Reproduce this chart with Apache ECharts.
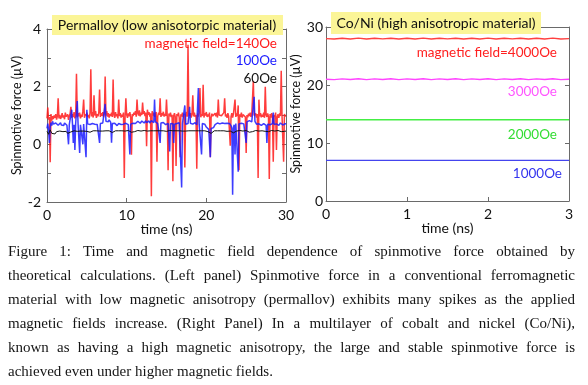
<!DOCTYPE html>
<html>
<head>
<meta charset="utf-8">
<script src="https://cdn.jsdelivr.net/npm/echarts@6/dist/echarts.min.js"></script>
<style>
  html, body { margin: 0; padding: 0; background: #fff; }
  #chart { position: absolute; left: 0; top: 0; width: 588px; height: 385px; }
  #caption { position: absolute; left: 8px; top: 239px; width: 567px;
    font-family: "Liberation Serif", "DejaVu Serif", serif; font-size: 15px; color: #151515; }
  #caption div { height: 24px; line-height: 24px; white-space: nowrap; text-align: justify; text-align-last: justify; }
  #caption div.last { text-align-last: left; }
</style>
</head>
<body>
<div id="chart"></div>
<div id="caption">
  <div>Figure 1: Time and magnetic field dependence of spinmotive force obtained by</div>
  <div>theoretical calculations. (Left panel) Spinmotive force in a conventional ferromagnetic</div>
  <div>material with low magnetic anisotropy (permallov) exhibits many spikes as the applied</div>
  <div>magnetic fields increase. (Right Panel) In a multilayer of cobalt and nickel (Co/Ni),</div>
  <div>known as having a high magnetic anisotropy, the large and stable spinmotive force is</div>
  <div class="last">achieved even under higher magnetic fields.</div>
</div>
<script>
// ---- Left panel: Permalloy, time 0..30 ns ----
const leftTimeStep = 0.1;   // ns between samples (red, blue)
const blackTimeStep = 0.2;  // ns between samples (black)
const red140 = [
  0.9, 1.28, 0.85, 0.95, -0.62, 1.05, 0.82, 0.98, 0.88, 1.0,
  0.92, 1.05, 0.86, 0.97, 1.6, 0.9, 1.02, 0.88, 0.95, 1.08,
  0.93, 1.0, 0.87, 1.1, 0.96, 0.9, 1.04, 0.85, 0.98, 1.06,
  1.3, 0.92, 1.05, 0.95, 1.12, 0.9, 1.0, 2.45, 0.94, 1.08,
  0.97, 1.1, 0.9, 1.03, 0.95, 1.15, 1.55, 0.92, 1.05, 0.98,
  1.1, 0.95, 1.02, 0.9, 1.08, 2.6, 0.97, 1.12, 0.93, 1.7,
  1.0, 1.15, 0.92, 1.05, 0.97, 1.1, 1.9, 0.95, 1.08, 0.99,
  1.12, 0.94, 1.06, 2.35, 1.0, 1.15, 0.96, 1.08, 0.93, 1.05,
  0.98, 1.1, 0.95, 2.25, 1.02, 0.92, 1.12, 0.97, 1.05, 0.9,
  1.55, 0.98, 1.08, 0.93, 1.03, 0.96, 1.1, -1.17, 0.95, 1.6,
  1.02, 0.92, 1.07, 0.97, 1.12, 0.94, -0.36, 1.05, 0.98, 1.1,
  1.03, 1.15, 0.96, 1.55, 1.08, 1.0, 1.18, 0.97, 1.1, 1.02,
  1.45, 1.05, 1.15, 0.98, 1.1, -0.07, 1.2, 1.02, 1.12, 0.96,
  1.08, -1.8, 1.15, 1.0, 1.1, 0.95, 1.05, 1.12, -0.6, 0.98,
  1.1, 1.02, 1.6, 0.95, 1.08, 1.0, 1.13, 0.96, 1.05, 0.98,
  1.55, 0.93, -0.9, 1.07, 0.97, 1.1, 0.94, 1.03, -1.28, 0.99,
  1.08, 0.95, -0.75, 1.05, 0.98, 1.1, 0.92, -0.45, 1.04, 0.97,
  1.1, 0.94, 1.06, -0.8, 1.0, 1.12, 0.96, 3.45, 1.05, 0.98,
  1.08, 0.93, 1.05, 1.7, 0.97, 1.1, 0.95, 1.02, -0.85, 1.07,
  0.96, 1.1, 1.95, 0.94, 1.05, 0.98, 2.07, 0.93, 1.08, 1.0,
  1.12, 0.95, 1.04, 0.97, 1.1, -0.45, 0.93, 1.06, 0.98, 1.03,
  0.95, 1.08, 0.97, 1.1, 0.93, 1.55, 1.02, 0.96, 1.07, 0.99,
  1.05, 0.94, 1.1, 1.6, 0.97, 1.04, 0.92, 1.08, 0.98, 1.03,
  -0.05, 0.96, 1.08, 0.93, 1.05, 0.99, 1.55, 0.95, 1.07, 0.98,
  1.35, -0.9, 1.04, 0.96, 1.1, 0.93, 1.03, 0.97, 1.08, 0.95,
  -0.3, 1.02, 0.94, 1.06, 0.98, 1.1, 0.95, 1.03, 0.97, 2.2,
  1.0, 0.95, 1.07, 0.93, 1.05, -1.17, 1.55, 0.97, 1.08, 0.94,
  1.03, 0.96, 1.1, 0.92, 2.0, 1.02, 0.95, 1.07, 0.97, -1.2,
  1.05, 0.93, 1.08, 0.97, -0.6, 1.02, 0.95, 1.1, -0.2, 0.96,
  1.04, 0.92, 1.07, 0.98, 2.55, 1.0, 0.94, -0.6, 1.05, 0.97, 1.0
];
const blue100 = [
  0.55, 0.72, 0.48, 0.05, 0.6, 0.75, 0.65, 0.8, 0.7, 0.76,
  0.68, 0.74, 0.7, 0.77, 0.66, 0.72, 0.69, 0.75, 0.67, 0.73,
  0.7, 0.65, 0.74, 0.68, 0.72, 0.66, 0.71, 0.0, 0.69, 0.74,
  0.66, 1.2, 0.7, 0.05, 0.68, -0.2, 0.73, 0.67, 1.5, 0.7,
  0.74, -0.3, 0.68, 0.72, 0.66, 0.0, 0.7, 0.74, 0.67, -0.45,
  1.2, 0.71, 0.66, 0.73, 0.69, 0.75, 0.68, 0.72, 0.66, 0.74,
  0.7, 0.67, 0.75, 0.69, 0.73, 0.68, 0.05, 0.72, 0.76, 0.7,
  0.74, 0.78, 0.72, 1.4, 0.8, 0.76, 0.82, 0.78, 0.85, 0.8,
  0.76, 0.06, 0.72, 0.7, 0.66, 0.73, 0.69, 0.71, 0.65, 0.7,
  0.72, 0.67, 0.74, 0.69, 0.66, 0.72, 0.7, 0.75, 0.68, 0.73,
  0.7, 0.74, 0.68, 0.72, -0.35, 0.7, 0.75, 0.69, 0.73, 0.71,
  0.76, 0.72, 0.78, 0.74, 0.8, 0.75, 0.79, 0.73, 0.77, 0.81,
  0.76, 0.8, 0.74, 0.78, 0.82, 0.75, 0.79, 0.77, 0.81, 0.74,
  0.78, 0.82, 0.76, 0.8, 0.75, 1.55, 0.79, 0.74, 0.78, 0.72,
  0.76, 0.7, 0.05, 0.74, 0.69, 0.73, 0.76, 0.7, 0.72, 0.68,
  0.74, 0.7, 0.73, 0.67, -0.25, 0.71, 0.75, 0.69, 0.72, 0.05,
  0.7, 0.74, 0.68, 0.72, 0.66, 0.71, 0.75, 0.69, 0.73, -1.5,
  0.72, 0.68, 0.74, 1.35, 0.7, 0.73, 0.67, 0.72, 0.69, 1.3,
  0.73, 0.68, 0.74, 0.7, 0.72, 0.67, 0.75, 0.71, 0.68, 0.73,
  1.95, 0.7, 0.74, 0.68, -0.35, 0.72, 0.69, 0.74, 0.7, 0.66,
  0.6, 0.55, 0.58, 0.52, 0.57, -0.45, 0.55, 0.6, 0.54, 0.58,
  0.62, 0.68, 0.72, 0.7, 0.74, 0.69, 0.73, 0.71, 0.75, 0.7,
  0.74, 0.71, 0.76, 0.72, 0.7, 0.75, 0.73, 0.69, 0.74, 0.72,
  0.7, 0.65, 0.55, -1.75, 0.6, 0.68, -0.35, 0.72, 0.7, 0.74,
  -0.95, 0.71, 0.75, 0.7, 0.73, 0.68, 0.74, 0.71, 0.76, 0.72,
  0.05, 0.78, 0.8, 0.76, 0.82, 0.79, 0.83, 0.78, 0.81, 0.77,
  1.65, 0.8, 0.74, 0.7, 0.72, 0.67, 0.71, 0.68, 0.72, 0.66,
  0.7, 0.67, 0.72, 0.68, 0.71, 0.66, 0.05, 0.7, 0.67, 0.72,
  0.68, 0.71, 0.66, 0.72, 1.1, 0.69, 0.73, 0.67, 0.71, 0.68,
  0.72, 0.66, 0.7, 0.74, 0.68, 0.71, 0.67, 0.73, 0.69, 0.72, 0.7
];
const black60 = [
  0.45, 0.35, 0.5, 0.38, 0.42, 0.36, 0.44, 0.4, 0.46, 0.42,
  0.44, 0.46, 0.45, 0.38, 0.36, 0.43, 0.46, 0.47, 0.46, 0.45,
  0.47, 0.46, 0.44, 0.46, 0.47, 0.45, 0.39, 0.42, 0.46, 0.47,
  0.46, 0.47, 0.45, 0.46, 0.47, 0.46, 0.45, 0.47, 0.48, 0.47,
  0.46, 0.41, 0.43, 0.47, 0.48, 0.47, 0.46, 0.47, 0.48, 0.46,
  0.47, 0.48, 0.47, 0.42, 0.39, 0.44, 0.47, 0.48, 0.47, 0.46,
  0.47, 0.48, 0.47, 0.46, 0.45, 0.47, 0.48, 0.47, 0.46, 0.47,
  0.46, 0.47, 0.48, 0.47, 0.46, 0.45, 0.47, 0.48, 0.46, 0.47,
  0.48, 0.47, 0.46, 0.47, 0.48, 0.46, 0.47, 0.46, 0.45, 0.47,
  0.48, 0.47, 0.46, 0.47, 0.48, 0.47, 0.46, 0.47, 0.46, 0.47,
  0.48, 0.44, 0.39, 0.38, 0.43, 0.47, 0.48, 0.47, 0.46, 0.47,
  0.48, 0.47, 0.46, 0.45, 0.47, 0.46, 0.44, 0.4, 0.42, 0.46,
  0.47, 0.48, 0.47, 0.46, 0.47, 0.48, 0.47, 0.42, 0.38, 0.44,
  0.47, 0.48, 0.47, 0.46, 0.45, 0.47, 0.46, 0.45, 0.41, 0.44,
  0.47, 0.48, 0.47, 0.46, 0.47, 0.48, 0.46, 0.44, 0.42, 0.45, 0.46
];
const leftXTicks = [0, 10, 20, 30];
const leftYTickLabels = [-2, 0, 2, 4];
const leftLabels = ['magnetic field=140Oe', '100Oe', '60Oe'];
const leftTitle = 'Permalloy (low anisotorpic material)';

// ---- Right panel: Co/Ni, time 0..3 ns ----
const rightTimeStep = 0.1;
const red4000 = [28.0, 27.92, 28.06, 27.94, 28.08, 27.93, 28.05, 27.95, 28.07, 27.92, 28.06,
  27.94, 28.08, 27.93, 28.05, 27.95, 28.07, 27.92, 28.06, 27.94, 28.08,
  27.93, 28.05, 27.95, 28.07, 27.92, 28.06, 27.94, 28.08, 27.93, 28.0];
const magenta3000 = [21.0, 20.93, 21.06, 20.94, 21.07, 20.93, 21.05, 20.95, 21.07, 20.92, 21.06,
  20.94, 21.07, 20.93, 21.05, 20.95, 21.07, 20.92, 21.06, 20.94, 21.07,
  20.93, 21.05, 20.95, 21.07, 20.92, 21.06, 20.94, 21.07, 20.93, 21.0];
const green2000 = [14.0, 14.0, 14.0, 14.0, 14.0, 14.0, 14.0, 14.0, 14.0, 14.0, 14.0,
  14.0, 14.0, 14.0, 14.0, 14.0, 14.0, 14.0, 14.0, 14.0, 14.0,
  14.0, 14.0, 14.0, 14.0, 14.0, 14.0, 14.0, 14.0, 14.0, 14.0];
const blue1000 = [7.0, 7.0, 7.0, 7.0, 7.0, 7.0, 7.0, 7.0, 7.0, 7.0, 7.0,
  7.0, 7.0, 7.0, 7.0, 7.0, 7.0, 7.0, 7.0, 7.0, 7.0,
  7.0, 7.0, 7.0, 7.0, 7.0, 7.0, 7.0, 7.0, 7.0, 7.0];
const rightXTicks = [0, 1, 2, 3];
const rightYTicks = [0, 10, 20, 30];
const rightLabels = ['magnetic field=4000Oe', '3000Oe', '2000Oe', '1000Oe'];
const rightTitle = 'Co/Ni (high anisotropic material)';

const yName = 'Spinmotive force (\u00b5V)';
const xName = 'time (ns)';

function pairs(vals, step) {
  return vals.map(function (v, i) { return [Math.round(i * step * 100) / 100, v]; });
}

const SANS = 'Lato, "Open Sans", sans-serif';
const AXIS_COLOR = '#6a6a6a';

function axisBase(extra) {
  return Object.assign({
    type: 'value',
    axisLine: { show: true, onZero: false, lineStyle: { color: AXIS_COLOR, width: 1 } },
    axisTick: { show: true, inside: true, length: 4, lineStyle: { color: AXIS_COLOR } },
    splitLine: { show: false },
    axisLabel: { color: '#111', fontFamily: SANS, fontSize: 14 }
  }, extra);
}

const chart = echarts.init(document.getElementById('chart'), null, { renderer: 'canvas' });

const option = {
  animation: false,
  backgroundColor: '#fff',
  grid: [
    { left: 47, top: 29, width: 239, height: 173 },
    { left: 326, top: 27, width: 243, height: 174 }
  ],
  xAxis: [
    axisBase({ gridIndex: 0, position: 'bottom', min: leftXTicks[0], max: leftXTicks[leftXTicks.length - 1], interval: 10,
      axisLabel: { color: '#111', fontFamily: SANS, fontSize: 14, margin: 6 },
      name: xName, nameLocation: 'middle', nameGap: 20, nameTextStyle: { color: '#111', fontFamily: SANS, fontSize: 14 } }),
    axisBase({ gridIndex: 0, position: 'top', min: 0, max: 30, interval: 10, axisLabel: { show: false }, axisTick: { show: false } }),
    axisBase({ gridIndex: 1, position: 'bottom', min: rightXTicks[0], max: rightXTicks[rightXTicks.length - 1], interval: 1,
      axisLabel: { color: '#111', fontFamily: SANS, fontSize: 14, margin: 6 },
      name: xName, nameLocation: 'middle', nameGap: 20, nameTextStyle: { color: '#111', fontFamily: SANS, fontSize: 14 } }),
    axisBase({ gridIndex: 1, position: 'top', min: 0, max: 3, interval: 1, axisLabel: { show: false }, axisTick: { show: false } })
  ],
  yAxis: [
    axisBase({ gridIndex: 0, position: 'left', min: leftYTickLabels[0], max: leftYTickLabels[leftYTickLabels.length - 1], interval: 1,
      axisLabel: { color: '#111', fontFamily: SANS, fontSize: 14, margin: 6,
        formatter: function (v) { return leftYTickLabels.indexOf(v) >= 0 ? String(v) : ''; } },
      name: yName, nameLocation: 'middle', nameGap: 20, nameRotate: 90,
      nameTextStyle: { color: '#111', fontFamily: SANS, fontSize: 12.5 } }),
    axisBase({ gridIndex: 0, position: 'right', min: -2, max: 4, interval: 1, axisLabel: { show: false } }),
    axisBase({ gridIndex: 1, position: 'left', min: rightYTicks[0], max: rightYTicks[rightYTicks.length - 1], interval: 10,
      axisLabel: { color: '#111', fontFamily: SANS, fontSize: 14, margin: 3 },
      name: yName, nameLocation: 'middle', nameGap: 18, nameRotate: 90,
      nameTextStyle: { color: '#111', fontFamily: SANS, fontSize: 12.5 } }),
    axisBase({ gridIndex: 1, position: 'right', min: 0, max: 30, interval: 10, axisLabel: { show: false } })
  ],
  series: [
    { type: 'line', xAxisIndex: 0, yAxisIndex: 0, data: pairs(red140, leftTimeStep), showSymbol: false,
      lineStyle: { color: '#ff1a1a', width: 1.5, opacity: 0.85 }, z: 2 },
    { type: 'line', xAxisIndex: 0, yAxisIndex: 0, data: pairs(blue100, leftTimeStep), showSymbol: false,
      lineStyle: { color: '#1a1aff', width: 1.5, opacity: 0.85 }, z: 3 },
    { type: 'line', xAxisIndex: 0, yAxisIndex: 0, data: pairs(black60, blackTimeStep), showSymbol: false,
      lineStyle: { color: '#111', width: 1 }, z: 4 },
    { type: 'line', xAxisIndex: 2, yAxisIndex: 2, data: pairs(red4000, rightTimeStep), showSymbol: false,
      lineStyle: { color: '#ff4040', width: 1.4 } },
    { type: 'line', xAxisIndex: 2, yAxisIndex: 2, data: pairs(magenta3000, rightTimeStep), showSymbol: false,
      lineStyle: { color: '#ff44ff', width: 1.4 } },
    { type: 'line', xAxisIndex: 2, yAxisIndex: 2, data: pairs(green2000, rightTimeStep), showSymbol: false,
      lineStyle: { color: '#44ee44', width: 1.4 } },
    { type: 'line', xAxisIndex: 2, yAxisIndex: 2, data: pairs(blue1000, rightTimeStep), showSymbol: false,
      lineStyle: { color: '#4444ee', width: 1.4 } }
  ],
  graphic: [
    { type: 'rect', z: 100, shape: { x: 52, y: 15, width: 231, height: 20 }, style: { fill: '#fbf597' } },
    { type: 'text', z: 101, x: 167, y: 25, style: { text: leftTitle, fill: '#111', font: '14px ' + SANS, align: 'center', verticalAlign: 'middle' } },
    { type: 'rect', z: 100, shape: { x: 331, y: 12, width: 210, height: 22 }, style: { fill: '#fbf597' } },
    { type: 'text', z: 101, x: 436, y: 23, style: { text: rightTitle, fill: '#111', font: '14px ' + SANS, align: 'center', verticalAlign: 'middle' } },
    { type: 'text', z: 101, x: 277, y: 44, style: { text: leftLabels[0], fill: '#ff1a1a', font: '13.5px ' + SANS, align: 'right', verticalAlign: 'middle' } },
    { type: 'text', z: 101, x: 277, y: 61, style: { text: leftLabels[1], fill: '#1a1aff', font: '13.5px ' + SANS, align: 'right', verticalAlign: 'middle' } },
    { type: 'text', z: 101, x: 277, y: 79, style: { text: leftLabels[2], fill: '#111', font: '13.5px ' + SANS, align: 'right', verticalAlign: 'middle' } },
    { type: 'text', z: 101, x: 557, y: 53, style: { text: rightLabels[0], fill: '#ff2020', font: '13.5px ' + SANS, align: 'right', verticalAlign: 'middle' } },
    { type: 'text', z: 101, x: 557, y: 92, style: { text: rightLabels[1], fill: '#ff55ff', font: '13.5px ' + SANS, align: 'right', verticalAlign: 'middle' } },
    { type: 'text', z: 101, x: 557, y: 135, style: { text: rightLabels[2], fill: '#33dd33', font: '13.5px ' + SANS, align: 'right', verticalAlign: 'middle' } },
    { type: 'text', z: 101, x: 562, y: 174, style: { text: rightLabels[3], fill: '#3333ee', font: '13.5px ' + SANS, align: 'right', verticalAlign: 'middle' } }
  ]
};
chart.setOption(option);
</script>
</body>
</html>
